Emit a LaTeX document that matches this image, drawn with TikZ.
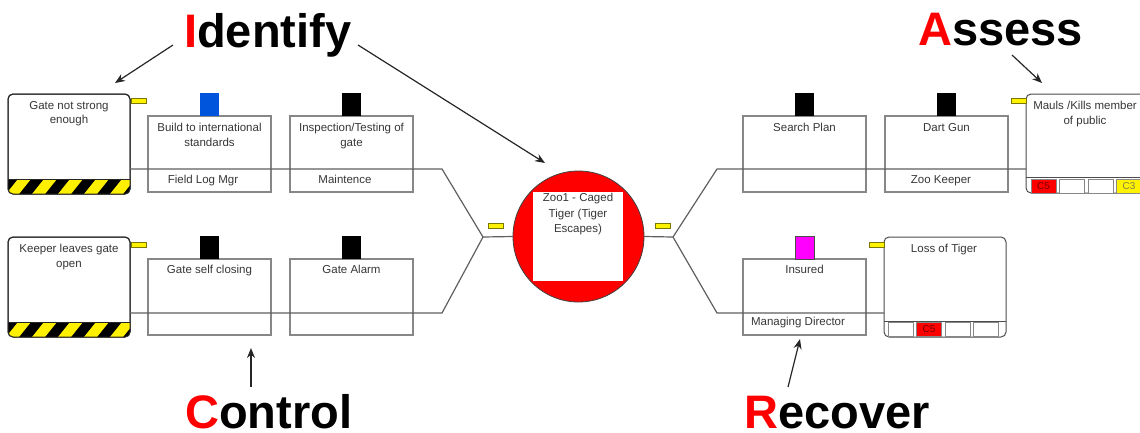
\documentclass[tikz,border=0pt]{standalone}
\usepackage{fontspec}
\setmainfont{Liberation Sans}
\usetikzlibrary{arrows.meta}

\definecolor{barblue}{RGB}{0,85,221}
\definecolor{barpink}{RGB}{255,0,255}
\definecolor{txtgray}{RGB}{55,55,55}
\definecolor{linegray}{RGB}{95,95,95}
\definecolor{boxgray}{RGB}{135,135,135}
\definecolor{tabedge}{RGB}{120,120,0}
\definecolor{hazyellow}{RGB}{255,240,0}

\begin{document}
\begin{tikzpicture}[x=1pt,y=-1pt,
  small/.style={font=\fontsize{11.5}{14.5}\selectfont, text=txtgray, inner sep=0pt, align=center},
  threatbox/.style={draw=black!85, line width=1pt, rounded corners=5pt, fill=white,
    minimum width=122pt, minimum height=100pt, inner sep=0pt, outer sep=0pt, anchor=north west},
  consbox/.style={draw=black!70, line width=1pt, rounded corners=5pt, fill=white,
    minimum width=122pt, minimum height=100pt, inner sep=0pt, outer sep=0pt, anchor=north west},
  barrierbox/.style={draw=boxgray, line width=1.5pt, fill=white,
    minimum width=123pt, minimum height=76pt, inner sep=0pt, outer sep=0pt, anchor=north west},
  flag/.style={minimum width=19pt, minimum height=23pt, inner sep=0pt, outer sep=0pt, anchor=south},
  tab/.style={fill=yellow, draw=tabedge, line width=0.8pt, minimum width=15pt, minimum height=5pt,
    inner sep=0pt, outer sep=0pt, anchor=north west},
  cell/.style={draw=boxgray, line width=1pt, fill=white, minimum width=25pt, minimum height=14pt,
    inner sep=0pt, outer sep=0pt, anchor=north west, font=\fontsize{10}{10}\selectfont},
  conn/.style={draw=linegray, line width=1.2pt},
  ptr/.style={draw=black!85, line width=1.2pt, -{Stealth[length=10pt,width=8pt]}},
  biglabel/.style={font=\fontsize{47}{50}\selectfont\bfseries, inner sep=0pt, anchor=base west}
]
\useasboundingbox (0,0) rectangle (1140,432);
\clip (0,0) rectangle (1140,432);

% ---------- threats ----------
\node[threatbox] (t1) at (8,94) {};
\node[threatbox] (t2) at (8,237) {};
\foreach \tb/\yb in {t1/194, t2/337}{
  \begin{scope}
    \clip[rounded corners=5pt] (8,\yb-100) rectangle (130,\yb);
    \fill[black] (0,\yb-15) rectangle (140,\yb);
    \foreach \s in {-20,6,...,140}
      \fill[hazyellow] (\s,\yb) -- (\s+13,\yb) -- (\s+25,\yb-15) -- (\s+12,\yb-15) -- cycle;
  \end{scope}
  \draw[black!85, line width=1pt] (8,\yb-15) -- (130,\yb-15);
  \draw[black!85, line width=1pt, rounded corners=5pt] (\tb.south west) rectangle (\tb.north east);
}
\node[small, anchor=north] (t1txt) at (69,101) {Gate not strong\\enough};
\node[small, anchor=north] (t2txt) at (69,244) {Keeper leaves gate\\open};
\node[tab] (t1tab) at (131,98) {};
\node[tab] (t2tab) at (131,242) {};

% ---------- preventive barriers ----------
\node[barrierbox] (c1) at (148,116) {};
\node[barrierbox] (c2) at (290,116) {};
\node[barrierbox] (c3) at (148,259) {};
\node[barrierbox] (c4) at (290,259) {};
\node[flag, fill=barblue] (c1f) at (c1.north) {};
\node[flag, fill=black] (c2f) at (c2.north) {};
\node[flag, fill=black] (c3f) at (c3.north) {};
\node[flag, fill=black] (c4f) at (c4.north) {};
\node[small, anchor=north] (c1txt) at (209.5,123) {Build to international\\standards};
\node[small, anchor=north] (c2txt) at (351.5,123) {Inspection/Testing of\\gate};
\node[small, anchor=north] (c1own) at (203,175) {Field Log Mgr};
\node[small, anchor=north] (c2own) at (345,175) {Maintence};
\node[small, anchor=north] (c3txt) at (209.5,265) {Gate self closing};
\node[small, anchor=north] (c4txt) at (351.5,265) {Gate Alarm};

% ---------- top event ----------
\node[circle, fill=red, draw=black!75, line width=0.8pt, minimum size=131pt, inner sep=0pt, outer sep=0pt] (top) at (578.5,236.5) {};
\node[fill=white, minimum width=90pt, minimum height=89pt, inner sep=0pt] (topsq) at (578,236.5) {};
\node[small, anchor=north, font=\fontsize{11.5}{15.5}\selectfont] (toptxt) at (578,193) {Zoo1 - Caged\\Tiger (Tiger\\Escapes)};
\node[tab] (ltab) at (488,223) {};
\node[tab] (rtab) at (655,223) {};

% ---------- recovery barriers ----------
\node[barrierbox] (r1) at (743,116) {};
\node[barrierbox] (r2) at (885,116) {};
\node[barrierbox] (r3) at (743,259) {};
\node[flag, fill=black] (r1f) at (r1.north) {};
\node[flag, fill=black] (r2f) at (r2.north) {};
\node[flag, fill=barpink, draw=black!70, line width=0.6pt] (r3f) at (r3.north) {};
\node[small, anchor=north] (r1txt) at (804.5,123) {Search Plan};
\node[small, anchor=north] (r2txt) at (946.5,123) {Dart Gun};
\node[small, anchor=north] (r2own) at (941,175) {Zoo Keeper};
\node[small, anchor=north] (r3txt) at (804.5,265) {Insured};
\node[small, anchor=north] (r3own) at (798,317) {Managing Director};

% ---------- consequences ----------
\node[consbox, minimum height=99pt] (k1) at (1026,94) {};
\node[consbox] (k2) at (884,237) {};
\draw[black!70, line width=1pt] (1026,177) -- (1148,177);
\draw[black!70, line width=1pt] (884,321) -- (1006,321);
\node[small, anchor=north] (k1txt) at (1085,101) {Mauls /Kills member\\of public};
\node[small, anchor=north] (k2txt) at (944,244) {Loss of Tiger};
\node[tab] (k1tab) at (1011,98) {};
\node[tab] (k2tab) at (869,242) {};
\node[cell, fill=red, text=black!55!red] (k1a) at (1031,179) {C5};
\node[cell] (k1b) at (1059.5,179) {};
\node[cell] (k1c) at (1088,179) {};
\node[cell, fill=yellow, text=black!55!yellow] (k1d) at (1116.5,179) {C3};
\node[cell] (k2a) at (888,322) {};
\node[cell, fill=red, text=black!55!red] (k2b) at (916.5,322) {C5};
\node[cell] (k2c) at (945,322) {};
\node[cell] (k2d) at (973.5,322) {};

% ---------- pathways ----------
\coordinate (jL1) at (442,169);
\coordinate (jL2) at (442,313);
\coordinate (hubL) at (483,237);
\coordinate (hubR) at (673,237);
\coordinate (jR1) at (717,169);
\coordinate (jR2) at (717,313);
\draw[conn] (t1.east |- jL1) -- (jL1) -- (hubL) -- (top.west);
\draw[conn] (t2.east |- jL2) -- (jL2) -- (hubL);
\draw[conn] (top.east) -- (hubR) -- (jR1) -- (k1.west |- jR1);
\draw[conn] (hubR) -- (jR2) -- (k2.west |- jR2);

% ---------- headings ----------
\node[biglabel] (hid) at (184,47) {\textcolor{red}{I}dentify};
\node[biglabel] (has) at (918,45) {\textcolor{red}{A}ssess};
\node[biglabel] (hco) at (185,428.5) {\textcolor{red}{C}ontrol};
\node[biglabel] (hre) at (744,428.5) {\textcolor{red}{R}ecover};

\coordinate (idA) at (173,45);  \coordinate (idAe) at (115,83);
\coordinate (idB) at (358,45);  \coordinate (idBe) at (545,163);
\coordinate (asA) at (1012,55); \coordinate (asAe) at (1042,83);
\coordinate (coA) at (251,387); \coordinate (coAe) at (251,348);
\coordinate (reA) at (788,387); \coordinate (reAe) at (800,339);
\draw[ptr] (idA) -- (idAe);
\draw[ptr] (idB) -- (idBe);
\draw[ptr] (asA) -- (asAe);
\draw[ptr] (coA) -- (coAe);
\draw[ptr] (reA) -- (reAe);
\end{tikzpicture}
\end{document}
